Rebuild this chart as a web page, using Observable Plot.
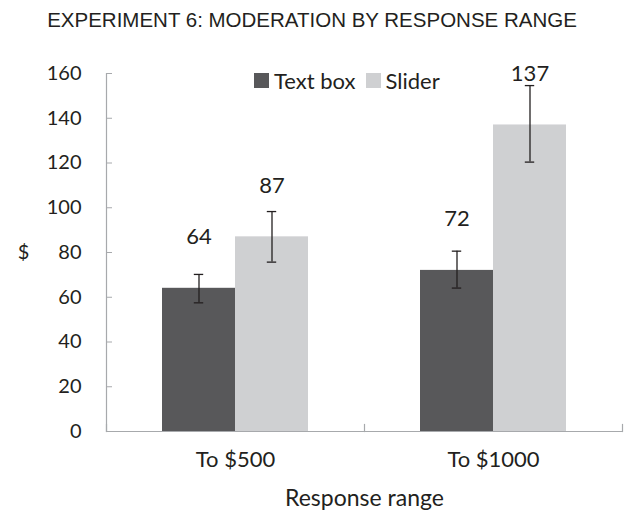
<!DOCTYPE html>
<html><head><meta charset="utf-8">
<script src="https://cdn.jsdelivr.net/npm/d3@7"></script>
<script src="https://cdn.jsdelivr.net/npm/@observablehq/plot@0.6"></script>
<style>
body{margin:0;background:#fff}
#wrap{position:relative;width:624px;height:511px}
#title{position:absolute;left:0;top:8px;width:624px;text-align:center;font:20.5px "Liberation Sans",Arial,sans-serif;color:#231f20;white-space:nowrap}
#legend{position:absolute;left:254px;top:68px;font:400 22px Lato;color:#231f20;display:flex;align-items:center;height:24px}
.sw{display:inline-block;width:15px;height:15px;margin-right:5px}
.lab{margin-right:10px}
</style></head><body>
<div id="wrap"><div id="title">EXPERIMENT 6: MODERATION BY RESPONSE RANGE</div><div id="chart"></div><div id="legend"></div></div>
<script>
const ranges = ["To $500", "To $1000"];
const types = ["Text box", "Slider"];
const textBoxMeans = [64, 72];
const sliderMeans = [87, 137];
const textBoxLow = [57.5, 64.1];
const textBoxHigh = [70.2, 80.6];
const sliderLow = [75.7, 120.4];
const sliderHigh = [98.3, 154.6];
const yTicks = [0, 20, 40, 60, 80, 100, 120, 140, 160];
const colors = ["#58585a", "#cfd0d2"];

const data = [];
ranges.forEach((r, i) => {
  data.push({range: r, type: types[0], mean: textBoxMeans[i], lo: textBoxLow[i], hi: textBoxHigh[i]});
  data.push({range: r, type: types[1], mean: sliderMeans[i], lo: sliderLow[i], hi: sliderHigh[i]});
});

const axisGray = "#a7a9ac";
const ink = "#231f20";
const capInset = 31.8;

const chart = Plot.plot({
  width: 624, height: 511,
  marginLeft: 105, marginRight: 2, marginTop: 73, marginBottom: 80,
  style: {fontFamily: "Lato", fontWeight: 400, color: ink, background: "transparent"},
  fx: {domain: ranges, padding: 0},
  x: {domain: types, paddingInner: 0, paddingOuter: 0.756, axis: null},
  y: {domain: [0, 160]},
  color: {domain: types, range: colors},
  marks: [
    Plot.barY(data, {fx: "range", x: "type", y: "mean", fill: "type"}),
    Plot.ruleY([0], {stroke: axisGray, strokeWidth: 1.2}),
    Plot.frame({anchor: "left", facetAnchor: "left", stroke: axisGray, strokeWidth: 1.2}),
    Plot.frame({anchor: "left", insetTop: 351, stroke: axisGray, strokeWidth: 1.2}),
    Plot.frame({anchor: "right", insetTop: 351, facetAnchor: "right", stroke: axisGray, strokeWidth: 1.2}),
    Plot.axisY({ticks: yTicks, tickSize: -6, tickPadding: 31, stroke: axisGray, fill: ink, fontSize: 20, label: null, tickFormat: d => String(d)}),
    Plot.text(["$"], {frameAnchor: "left", dx: -83, textAnchor: "middle", facetAnchor: "left", fontSize: 20, fill: ink}),
    Plot.ruleX(data, {fx: "range", x: "type", y1: "lo", y2: "hi", stroke: ink, strokeWidth: 1.3}),
    Plot.tickY(data, {fx: "range", x: "type", y: "lo", stroke: ink, strokeWidth: 1.3, insetLeft: capInset, insetRight: capInset}),
    Plot.tickY(data, {fx: "range", x: "type", y: "hi", stroke: ink, strokeWidth: 1.3, insetLeft: capInset, insetRight: capInset}),
    Plot.text(data, {fx: "range", x: "type", y: "mean", text: d => String(d.mean), lineAnchor: "bottom", dy: -44, fontSize: 22, fill: ink}),
    Plot.axisFx({anchor: "bottom", tickSize: 0, tickPadding: 20, fontSize: 22, fill: ink, label: null}),
    Plot.axisFx({anchor: "bottom", tickSize: 0, ticks: [], fontSize: 23, fill: ink, label: "Response range", labelAnchor: "center", labelOffset: 74, labelArrow: "none"})
  ]
});
document.getElementById("chart").appendChild(chart);

const legend = document.getElementById("legend");
types.forEach((t, i) => {
  const sw = document.createElement("span");
  sw.className = "sw";
  sw.style.background = colors[i];
  const lab = document.createElement("span");
  lab.className = "lab";
  lab.textContent = t;
  legend.appendChild(sw);
  legend.appendChild(lab);
});
</script>
</body></html>
